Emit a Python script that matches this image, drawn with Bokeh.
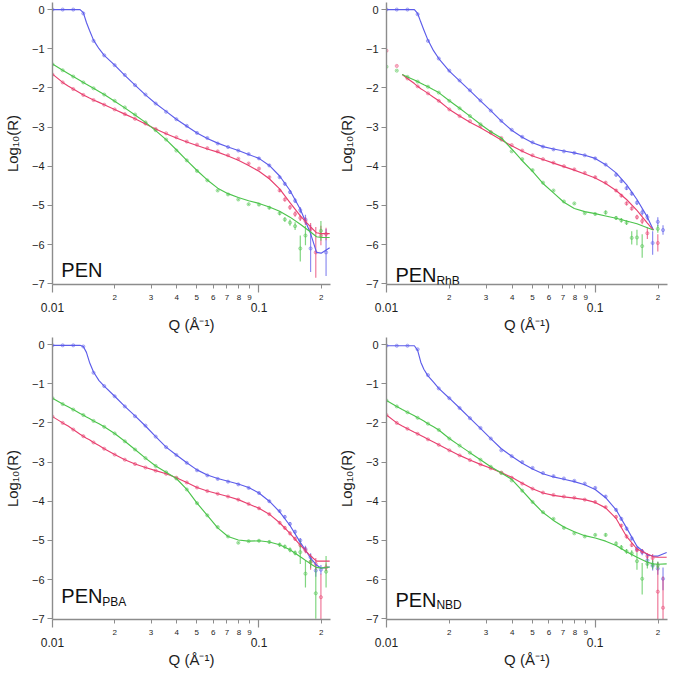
from bokeh.plotting import figure
from bokeh.layouts import gridplot
from bokeh.models import Range1d, FixedTicker, LogAxis, Label
from bokeh.embed import file_html
from bokeh.resources import INLINE

nan = float("nan")

# ---------------- data ----------------
FIT_Q = [0.0100, 0.0112, 0.0119, 0.0126, 0.0136, 0.0141, 0.0146, 0.0151, 0.0158, 0.0168,
         0.0178, 0.0200, 0.0224, 0.0251, 0.0282, 0.0316, 0.0355, 0.0398, 0.0447, 0.0501,
         0.0562, 0.0631, 0.0708, 0.0794, 0.0891, 0.1000, 0.1122, 0.1259, 0.1413, 0.1585,
         0.1778, 0.1900, 0.2000, 0.2200]

DATA_Q = [0.0100, 0.0112, 0.0126, 0.0141, 0.0158, 0.0178, 0.0200, 0.0224, 0.0251, 0.0282,
          0.0316, 0.0355, 0.0398, 0.0447, 0.0501, 0.0562, 0.0631, 0.0708, 0.0794, 0.0891,
          0.1000, 0.1122, 0.1259, 0.1334, 0.1413, 0.1496, 0.1585, 0.1679, 0.1778, 0.1884,
          0.1995, 0.2113]

BASE_ERR = [0.01, 0.01, 0.01, 0.01, 0.01, 0.01, 0.01, 0.01, 0.01, 0.01, 0.01,
            0.01, 0.01, 0.02, 0.02, 0.02, 0.02, 0.02, 0.02, 0.02, 0.03]

# PEN
PEN_BLUE_FIT = [0.00, 0.00, 0.00, 0.00, 0.00, -0.08, -0.33, -0.53, -0.78, -1.00, -1.17, -1.42,
                -1.68, -1.93, -2.18, -2.40, -2.60, -2.80, -2.98, -3.15, -3.29, -3.41, -3.51,
                -3.60, -3.70, -3.80, -3.98, -4.25, -4.62, -5.10, -5.72, -6.20, -6.22, -6.08]
PEN_PINK_FIT = [-1.65, -1.86, -1.95, -2.03, -2.13, -2.18, -2.22, -2.26, -2.31, -2.37, -2.43,
                -2.55, -2.67, -2.79, -2.92, -3.05, -3.17, -3.28, -3.38, -3.47, -3.56, -3.64,
                -3.74, -3.85, -3.98, -4.13, -4.32, -4.58, -4.93, -5.27, -5.55, -5.70, -5.72, -5.72]
PEN_GREEN_FIT = [-1.39, -1.55, -1.63, -1.71, -1.81, -1.86, -1.91, -1.95, -2.01, -2.09, -2.17,
                 -2.34, -2.51, -2.69, -2.88, -3.09, -3.32, -3.58, -3.85, -4.11, -4.35, -4.56,
                 -4.70, -4.80, -4.88, -4.95, -5.04, -5.15, -5.30, -5.48, -5.68, -5.80, -5.82, -5.82]
PEN_BLUE = [0.00, 0.00, 0.00, -0.10, -0.80, -1.17, -1.42, -1.67, -1.93, -2.17, -2.40, -2.61,
            -2.80, -2.97, -3.15, -3.28, -3.42, -3.51, -3.60, -3.69, -3.80, -3.98, -4.28, -4.45,
            -4.66, -4.88, -5.12, -5.36, -6.10, nan, nan, -6.20]
PEN_PINK = [-1.66, -1.86, -2.03, -2.18, -2.31, -2.43, -2.55, -2.67, -2.79, -2.91, -3.05, -3.16,
            -3.26, -3.37, -3.45, -3.54, -3.62, -3.72, -3.81, -3.93, -4.06, -4.28, -4.62, -4.85,
            -5.05, -5.22, -5.32, -5.40, -5.60, -6.20, -5.77, -5.73]
PEN_GREEN = [-1.40, -1.55, -1.71, -1.86, -2.01, -2.17, -2.33, -2.50, -2.68, -2.88, -3.08, -3.32,
             -3.60, -3.85, -4.12, -4.36, -4.62, -4.72, -4.85, -4.97, -4.98, -5.06, -5.20, -5.36,
             -5.44, -5.53, -6.10, -5.77, nan, nan, -5.65, nan]
PEN_BLUE_ERR = BASE_ERR + [0.03, 0.03, 0.04, 0.05, 0.06, 0.08, 0.12, 0.60, 0, 0, 0.60]
PEN_PINK_ERR = BASE_ERR + [0.03, 0.04, 0.05, 0.06, 0.07, 0.08, 0.10, 0.15, 0.65, 0.25, 0.16]
PEN_GREEN_ERR = BASE_ERR + [0.04, 0.05, 0.06, 0.08, 0.10, 0.33, 0.25, 0, 0, 0.25, 0]

# PEN RhB
RHB_BLUE_FIT = [0.00, 0.00, 0.00, 0.00, 0.00, -0.10, -0.32, -0.52, -0.78, -1.05, -1.25, -1.57,
                -1.82, -2.07, -2.33, -2.58, -2.85, -3.08, -3.26, -3.40, -3.50, -3.56, -3.61,
                -3.66, -3.72, -3.80, -3.96, -4.17, -4.47, -4.85, -5.30, -5.63, nan, nan]
RHB_PINK_FIT = [nan, nan, -1.66, -1.76, -1.89, -1.96, -2.02, -2.07, -2.14, -2.24, -2.33, -2.55,
                -2.72, -2.88, -3.02, -3.17, -3.33, -3.48, -3.62, -3.74, -3.83, -3.92, -4.01,
                -4.10, -4.20, -4.30, -4.44, -4.62, -4.85, -5.13, -5.45, -5.63, nan, nan]
RHB_GREEN_FIT = [nan, nan, -1.66, -1.72, -1.80, -1.84, -1.88, -1.92, -1.97, -2.05, -2.12, -2.33,
                 -2.52, -2.72, -2.93, -3.12, -3.28, -3.56, -3.86, -4.13, -4.44, -4.68, -4.92,
                 -5.08, -5.16, -5.21, -5.27, -5.33, -5.40, -5.47, -5.57, -5.63, nan, nan]
RHB_BLUE = [0.00, 0.00, 0.00, -0.12, -0.80, -1.25, -1.56, -1.81, -2.06, -2.32, -2.58, -2.84,
            -3.07, -3.25, -3.39, -3.50, -3.57, -3.62, -3.66, -3.72, -3.80, -3.96, -4.22, -4.38,
            -4.56, -4.70, -4.93, -5.18, -5.30, -5.96, -5.42, -5.63]
RHB_PINK = [-1.05, -1.44, -1.76, -1.96, -2.14, -2.33, -2.55, -2.72, -2.85, -2.98, -3.13, -3.28,
            -3.46, -3.60, -3.72, -3.82, -3.91, -4.00, -4.08, -4.17, -4.28, -4.42, -4.62, -4.75,
            -4.95, -5.08, -5.30, -5.40, -5.71, nan, -5.96, nan]
RHB_GREEN = [-1.46, -1.56, -1.72, -1.84, -1.97, -2.12, -2.33, -2.52, -2.72, -2.93, -3.14, -3.32,
             -3.62, -3.82, -4.10, -4.42, -4.62, -4.90, -4.95, -5.20, -5.22, -5.18, -5.32, -5.38,
             -5.44, -5.83, -5.82, -6.04, nan, nan, -5.60, nan]
RHB_BLUE_ERR = BASE_ERR + [0.03, 0.04, 0.04, 0.05, 0.05, 0.06, 0.08, 0.08, 0.30, 0.12, 0.12]
RHB_PINK_ERR = BASE_ERR + [0.03, 0.04, 0.04, 0.05, 0.05, 0.06, 0.08, 0.15, 0, 0.22, 0]
RHB_GREEN_ERR = BASE_ERR + [0.05, 0.05, 0.06, 0.06, 0.17, 0.20, 0.30, 0, 0, 0.10, 0]

# PEN PBA
PBA_BLUE_FIT = [-0.02, -0.02, -0.02, -0.02, -0.02, -0.05, -0.20, -0.45, -0.70, -0.92, -1.06,
                -1.32, -1.58, -1.82, -2.08, -2.35, -2.62, -2.82, -3.02, -3.20, -3.33, -3.42,
                -3.49, -3.56, -3.65, -3.79, -4.00, -4.27, -4.62, -5.05, -5.45, -5.63, -5.71, -5.68]
PBA_PINK_FIT = [-1.84, -2.00, -2.08, -2.17, -2.29, -2.34, -2.39, -2.43, -2.50, -2.58, -2.66,
                -2.81, -2.94, -3.05, -3.14, -3.22, -3.30, -3.40, -3.52, -3.65, -3.74, -3.81,
                -3.88, -3.96, -4.07, -4.18, -4.33, -4.55, -4.82, -5.12, -5.40, -5.53, -5.53, -5.53]
PBA_GREEN_FIT = [-1.37, -1.52, -1.59, -1.66, -1.76, -1.80, -1.85, -1.89, -1.95, -2.02, -2.10,
                 -2.27, -2.47, -2.68, -2.90, -3.10, -3.26, -3.42, -3.70, -4.05, -4.36, -4.68,
                 -4.90, -4.99, -5.02, -5.01, -5.04, -5.11, -5.24, -5.42, -5.60, -5.69, -5.71, -5.68]
PBA_BLUE = [-0.02, -0.02, -0.02, -0.05, -0.72, -1.06, -1.32, -1.58, -1.83, -2.07, -2.35, -2.62,
            -2.82, -3.02, -3.21, -3.34, -3.43, -3.50, -3.57, -3.66, -3.79, -4.00, -4.25, -4.40,
            -4.58, -4.78, -5.00, -5.22, -5.43, -5.77, -5.75, nan]
PBA_PINK = [-1.84, -2.00, -2.17, -2.34, -2.50, -2.66, -2.81, -2.94, -3.05, -3.14, -3.22, -3.30,
            -3.40, -3.52, -3.65, -3.74, -3.81, -3.88, -3.96, -4.07, -4.18, -4.33, -4.55, -4.68,
            -4.82, -4.96, -5.12, -5.25, -5.55, -5.60, -6.45, -5.69]
PBA_GREEN = [-1.37, -1.52, -1.66, -1.80, -1.95, -2.10, -2.27, -2.47, -2.68, -2.90, -3.10, -3.26,
             -3.42, -3.70, -4.05, -4.36, -4.66, -4.90, -5.06, -5.02, -5.01, -5.04, -5.11, -5.16,
             -5.24, -5.32, -5.30, -5.85, -5.55, -6.35, nan, -5.80]
PBA_BLUE_ERR = BASE_ERR + [0.03, 0.04, 0.04, 0.05, 0.05, 0.06, 0.08, 0.10, 0.16, 0.12, 0]
PBA_PINK_ERR = BASE_ERR + [0.03, 0.04, 0.04, 0.05, 0.05, 0.06, 0.08, 0.20, 0.15, 0.60, 0.10]
PBA_GREEN_ERR = BASE_ERR + [0.04, 0.05, 0.05, 0.06, 0.06, 0.30, 0.35, 0.15, 0.65, 0, 0.40]

# PEN NBD
NBD_BLUE_FIT = [-0.03, -0.03, -0.03, -0.03, -0.03, -0.15, -0.45, -0.63, -0.80, -0.96, -1.12,
                -1.37, -1.62, -1.88, -2.14, -2.40, -2.66, -2.85, -3.03, -3.18, -3.30, -3.38,
                -3.44, -3.50, -3.58, -3.70, -3.91, -4.22, -4.68, -5.15, -5.37, -5.40, -5.40, -5.31]
NBD_PINK_FIT = [-1.80, -2.00, -2.08, -2.15, -2.24, -2.28, -2.32, -2.36, -2.42, -2.49, -2.56,
                -2.70, -2.83, -2.95, -3.06, -3.16, -3.27, -3.39, -3.54, -3.68, -3.79, -3.85,
                -3.89, -3.92, -3.96, -4.03, -4.17, -4.44, -4.90, -5.22, -5.35, -5.42, -5.43, -5.43]
NBD_GREEN_FIT = [-1.43, -1.58, -1.66, -1.73, -1.82, -1.87, -1.91, -1.95, -2.02, -2.10, -2.18,
                 -2.40, -2.58, -2.76, -2.94, -3.12, -3.28, -3.44, -3.73, -4.02, -4.29, -4.49,
                 -4.66, -4.78, -4.88, -4.94, -5.02, -5.13, -5.29, -5.43, -5.56, -5.60, -5.61, -5.60]
NBD_BLUE = [-0.03, -0.03, -0.03, -0.12, -0.78, -1.12, -1.37, -1.62, -1.88, -2.13, -2.40, -2.70,
            -2.85, -3.00, -3.15, -3.28, -3.36, -3.42, -3.48, -3.55, -3.66, -3.88, -4.22, -4.45,
            -4.70, -4.95, -5.22, -5.30, -5.51, -5.65, -5.72, -5.98]
NBD_PINK = [-1.80, -2.00, -2.15, -2.28, -2.42, -2.56, -2.70, -2.83, -2.95, -3.06, -3.16, -3.27,
            -3.40, -3.55, -3.68, -3.78, -3.84, -3.88, -3.91, -3.96, -4.02, -4.15, -4.40, -4.62,
            -4.90, -5.12, -5.25, -5.28, -5.40, -5.45, -6.31, -6.72]
NBD_GREEN = [-1.43, -1.58, -1.73, -1.87, -2.02, -2.18, -2.40, -2.58, -2.76, -2.94, -3.12, -3.28,
             -3.47, -3.73, -4.02, -4.28, -4.45, -4.68, -4.82, -4.90, -4.86, -4.86, -5.08, -5.18,
             -5.28, -5.33, -5.53, -5.98, -5.60, -5.62, -5.64, nan]
NBD_BLUE_ERR = BASE_ERR + [0.03, 0.04, 0.04, 0.05, 0.05, 0.06, 0.08, 0.14, 0.12, 0.16, 0.29]
NBD_PINK_ERR = BASE_ERR + [0.03, 0.04, 0.04, 0.05, 0.05, 0.06, 0.06, 0.08, 0.10, 0.75, 0.80]
NBD_GREEN_ERR = BASE_ERR + [0.04, 0.05, 0.06, 0.06, 0.08, 0.22, 0.40, 0.12, 0.12, 0.10, 0]

X_MINOR_TICKS = [0.02, 0.03, 0.04, 0.05, 0.06, 0.07, 0.08, 0.09, 0.2]
X_MINOR_LABELS = ["2", "3", "4", "5", "6", "7", "8", "9", "2"]
X_DECADES = [0.01, 0.1]
X_DECADE_LABELS = ["0.01", "0.1"]
Y_TICKS = [-7, -6, -5, -4, -3, -2, -1, 0]

PANEL_MAIN = ["PEN", "PEN", "PEN", "PEN"]
PANEL_SUB = ["", "RhB", "PBA", "NBD"]

# ---------------- styling ----------------
FONT = "Liberation Sans"
BLUE = "#5c5cea"
PINK = "#e8406f"
GREEN = "#4cc44c"
AXIS_GRAY = "#8c8c8c"
TEXT = "#1e1e1e"


def make_panel(series, main, sub, main_y, sub_y, left, right, width):
    p = figure(width=width, height=335, x_axis_type="log",
               x_range=Range1d(0.01, 0.222), y_range=Range1d(-7.02, 0.18),
               output_backend="svg", toolbar_location=None,
               min_border_left=left, min_border_right=right,
               min_border_top=2, min_border_bottom=0)
    p.outline_line_color = None
    p.xgrid.grid_line_color = None
    p.ygrid.grid_line_color = None

    # y axis
    ya = p.yaxis[0]
    ya.ticker = FixedTicker(ticks=Y_TICKS, minor_ticks=[])
    ya.axis_label = "Log\u2081\u2080(R)"
    ya.axis_label_text_font = FONT
    ya.axis_label_text_font_size = "15px"
    ya.axis_label_text_font_style = "normal"
    ya.axis_label_text_color = TEXT
    ya.axis_label_standoff = 8
    ya.major_label_text_font = FONT
    ya.major_label_text_font_size = "11px"
    ya.major_label_text_color = TEXT
    ya.major_label_standoff = 3
    ya.axis_line_color = AXIS_GRAY
    ya.axis_line_width = 1.4
    ya.major_tick_line_color = AXIS_GRAY
    ya.major_tick_line_width = 1.2
    ya.major_tick_out = 5
    ya.major_tick_in = 0
    ya.minor_tick_line_color = None

    # x axis: minor digit labels
    xa = p.xaxis[0]
    xa.ticker = FixedTicker(ticks=X_MINOR_TICKS, minor_ticks=X_DECADES)
    xa.major_label_overrides = {q: s for q, s in zip(X_MINOR_TICKS, X_MINOR_LABELS)}
    xa.major_label_text_font = FONT
    xa.major_label_text_font_size = "8px"
    xa.major_label_text_color = TEXT
    xa.major_label_standoff = 2
    xa.axis_line_color = AXIS_GRAY
    xa.axis_line_width = 1.4
    xa.major_tick_line_color = AXIS_GRAY
    xa.minor_tick_line_color = AXIS_GRAY
    xa.major_tick_line_width = 1.0
    xa.minor_tick_line_width = 1.2
    xa.major_tick_out = 4
    xa.major_tick_in = 0
    xa.minor_tick_out = 8
    xa.minor_tick_in = 0

    # x axis: decade labels and title
    xa2 = LogAxis(ticker=FixedTicker(ticks=X_DECADES, minor_ticks=[]))
    xa2.major_label_overrides = {q: s for q, s in zip(X_DECADES, X_DECADE_LABELS)}
    xa2.major_label_text_font = FONT
    xa2.major_label_text_font_size = "12px"
    xa2.major_label_text_color = TEXT
    xa2.major_label_standoff = 0
    xa2.axis_line_color = None
    xa2.major_tick_line_color = None
    xa2.minor_tick_line_color = None
    xa2.major_tick_out = 0
    xa2.major_tick_in = 0
    xa2.axis_label = "Q (\u00c5\u207b\u00b9)"
    xa2.axis_label_text_font = FONT
    xa2.axis_label_text_font_size = "15px"
    xa2.axis_label_text_font_style = "normal"
    xa2.axis_label_text_color = TEXT
    xa2.axis_label_standoff = 1
    p.add_layout(xa2, "below")

    # data points with error bars
    for (dvals, derr, fvals, color) in series:
        xs, lo, hi, ys = [], [], [], []
        for q, v, e in zip(DATA_Q, dvals, derr):
            if v == v:
                xs.append(q)
                ys.append(v)
                lo.append(v - e)
                hi.append(v + e)
        p.segment(x0=xs, y0=lo, x1=xs, y1=hi, line_color=color, line_alpha=0.7, line_width=1.2)
        p.scatter(xs, ys, marker="circle", size=3.2, line_color=color, line_alpha=0.5,
                  fill_color=color, fill_alpha=0.25, line_width=0.9)
    # fit lines
    for (dvals, derr, fvals, color) in series:
        p.line(FIT_Q, fvals, line_color=color, line_width=1.15)

    p.add_layout(Label(x=0.01103, y=main_y, text=main, text_font=FONT,
                       text_font_size="20px", text_color="#111111",
                       text_baseline="alphabetic"))
    if sub:
        p.add_layout(Label(x=0.01103, y=sub_y, x_offset=41, text=sub, text_font=FONT,
                           text_font_size="12px", text_color="#111111",
                           text_baseline="alphabetic"))
    return p


p1 = make_panel([(PEN_BLUE, PEN_BLUE_ERR, PEN_BLUE_FIT, BLUE),
                 (PEN_PINK, PEN_PINK_ERR, PEN_PINK_FIT, PINK),
                 (PEN_GREEN, PEN_GREEN_ERR, PEN_GREEN_FIT, GREEN)],
                PANEL_MAIN[0], PANEL_SUB[0], -6.66, -6.80, 46, 4, 334)
p2 = make_panel([(RHB_BLUE, RHB_BLUE_ERR, RHB_BLUE_FIT, BLUE),
                 (RHB_PINK, RHB_PINK_ERR, RHB_PINK_FIT, PINK),
                 (RHB_GREEN, RHB_GREEN_ERR, RHB_GREEN_FIT, GREEN)],
                PANEL_MAIN[1], PANEL_SUB[1], -6.78, -6.92, 49, 2, 335)
p3 = make_panel([(PBA_BLUE, PBA_BLUE_ERR, PBA_BLUE_FIT, BLUE),
                 (PBA_PINK, PBA_PINK_ERR, PBA_PINK_FIT, PINK),
                 (PBA_GREEN, PBA_GREEN_ERR, PBA_GREEN_FIT, GREEN)],
                PANEL_MAIN[2], PANEL_SUB[2], -6.43, -6.57, 46, 4, 334)
p4 = make_panel([(NBD_BLUE, NBD_BLUE_ERR, NBD_BLUE_FIT, BLUE),
                 (NBD_PINK, NBD_PINK_ERR, NBD_PINK_FIT, PINK),
                 (NBD_GREEN, NBD_GREEN_ERR, NBD_GREEN_FIT, GREEN)],
                PANEL_MAIN[3], PANEL_SUB[3], -6.51, -6.65, 49, 2, 335)

grid = gridplot([[p1, p2], [p3, p4]], toolbar_location=None)

with open("out.html", "w") as f:
    f.write(file_html(grid, INLINE))
